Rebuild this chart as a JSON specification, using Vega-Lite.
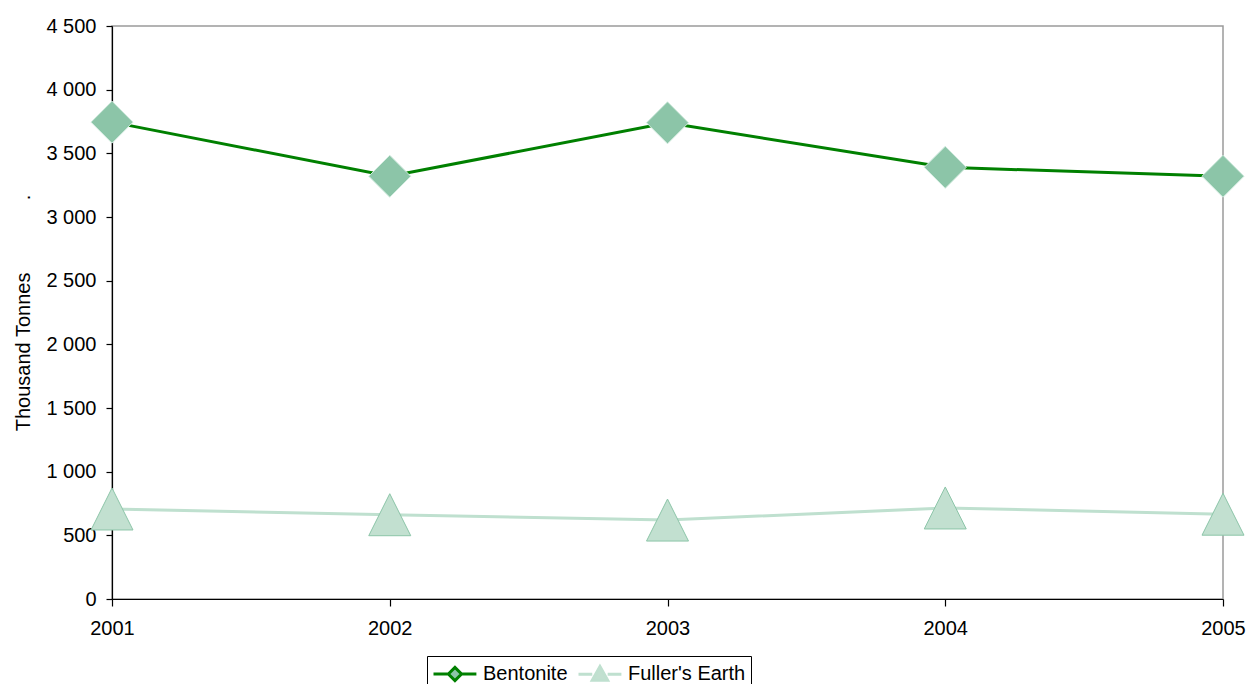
{
  "$schema": "https://vega.github.io/schema/vega-lite/v6.json",
  "autosize": {"type": "none"},
  "padding": {"left": 112, "top": 26, "right": 26, "bottom": 85},
  "width": 1111,
  "height": 573,
  "background": "white",
  "config": {
    "font": "Liberation Sans",
    "view": {"stroke": "#9a9a9a", "strokeWidth": 1.5},
    "axis": {"grid": false, "labelFont": "Liberation Sans", "titleFont": "Liberation Sans", "labelColor": "#000", "titleColor": "#000", "domainColor": "#000", "tickColor": "#000", "labelFontSize": 20, "titleFontSize": 20, "titleFontWeight": "normal", "domainWidth": 1.2, "tickWidth": 1.2}
  },
  "data": {
    "values": [
      {"year": "2001", "series": "Bentonite", "value": 3745},
      {"year": "2002", "series": "Bentonite", "value": 3320},
      {"year": "2003", "series": "Bentonite", "value": 3740},
      {"year": "2004", "series": "Bentonite", "value": 3390},
      {"year": "2005", "series": "Bentonite", "value": 3320},
      {"year": "2001", "series": "Fuller's Earth", "value": 707},
      {"year": "2002", "series": "Fuller's Earth", "value": 662},
      {"year": "2003", "series": "Fuller's Earth", "value": 620},
      {"year": "2004", "series": "Fuller's Earth", "value": 715},
      {"year": "2005", "series": "Fuller's Earth", "value": 666}
    ]
  },
  "encoding": {
    "x": {
      "field": "year", "type": "ordinal",
      "scale": {"type": "point", "padding": 0},
      "axis": {"title": null, "labelAngle": 0, "tickSize": 7, "labelPadding": 12}
    },
    "y": {
      "field": "value", "type": "quantitative",
      "scale": {"domain": [0, 4500], "nice": false},
      "axis": {
        "title": "Thousand Tonnes\u00a0\u00a0\u00a0\u00a0\u00a0\u00a0\u00a0\u00a0\u00a0\u00a0\u00a0\u00a0\u00a0.",
        "values": [0, 500, 1000, 1500, 2000, 2500, 3000, 3500, 4000, 4500],
        "labelExpr": "replace(format(datum.value, ','), ',', ' ')",
        "tickSize": 6, "labelPadding": 10, "titlePadding": 12
      }
    }
  },
  "layer": [
    {
      "mark": {"type": "line", "strokeWidth": 3},
      "encoding": {
        "stroke": {
          "field": "series", "type": "nominal",
          "scale": {"domain": ["Bentonite", "Fuller's Earth"], "range": ["#008000", "#BFE0CF"]},
          "legend": {
            "title": null, "orient": "none", "legendX": 315, "legendY": 630,
            "direction": "horizontal",
            "strokeColor": "#000", "padding": 5,
            "labelFontSize": 20, "labelColor": "#000", "labelFont": "Liberation Sans",
            "symbolSize": 484, "symbolStrokeWidth": 3, "labelOffset": 26, "columnPadding": 4,
            "encode": {
              "symbols": {
                "update": {
                  "shape": {"signal": "datum.value === 'Bentonite' ? 'M-1,0L0.35,0M1.55,0L2.9,0M0.35,0L0.95,-0.6L1.55,0L0.95,0.6Z' : 'M-1,0L0.25,0M1.65,0L2.9,0M0.95,-0.7L1.65,0.55L0.25,0.55Z'"},
                  "fill": {"signal": "datum.value === 'Bentonite' ? '#8CC5A8' : '#C2E0D0'"},
                  "fillOpacity": {"value": 1}
                }
              }
            }
          }
        }
      }
    },
    {
      "mark": {"type": "point", "filled": true, "size": 1764, "opacity": 1, "strokeWidth": 1},
      "encoding": {
        "fill": {
          "field": "series", "type": "nominal",
          "scale": {"domain": ["Bentonite", "Fuller's Earth"], "range": ["#8CC5A8", "#C2E0D0"]},
          "legend": null
        },
        "stroke": {
          "field": "series", "type": "nominal",
          "scale": {"domain": ["Bentonite", "Fuller's Earth"], "range": ["#D2EBDF", "#8CC5A8"]},
          "legend": null
        },
        "shape": {
          "field": "series", "type": "nominal",
          "scale": {"domain": ["Bentonite", "Fuller's Earth"], "range": ["diamond", "M0,-1L1,1L-1,1Z"]},
          "legend": null
        }
      }
    }
  ],
  "resolve": {"scale": {"stroke": "independent"}}
}
